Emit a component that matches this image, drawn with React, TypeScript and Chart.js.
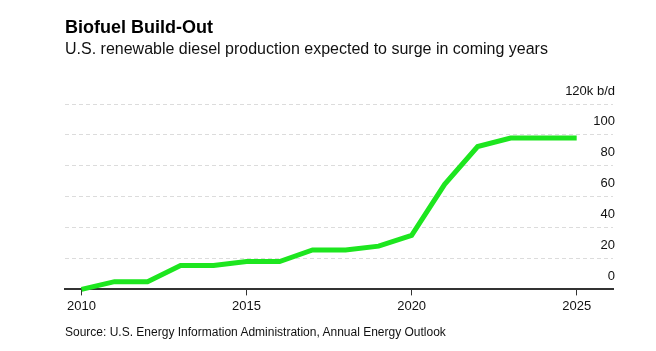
import React, { useEffect, useRef } from 'react';
import { Chart, registerables } from 'chart.js';

Chart.register(...registerables);

const TITLE = 'Biofuel Build-Out';
const SUBTITLE = 'U.S. renewable diesel production expected to surge in coming years';
const SOURCE = 'Source: U.S. Energy Information Administration, Annual Energy Outlook';

const years = [2010, 2011, 2012, 2013, 2014, 2015, 2016, 2017, 2018, 2019, 2020, 2021, 2022, 2023, 2024, 2025];
const production = [0, 5, 5, 15.5, 15.5, 18, 18, 25.5, 25.5, 28, 35, 68, 92.5, 98, 98, 98];
const xTicks = [2010, 2015, 2020, 2025];
const yTicks = [0, 20, 40, 60, 80, 100, 120];
const unitLabel = '120k b/d';

const FONT = '"Liberation Sans", Arial, Helvetica, sans-serif';

export default function App() {
  const ref = useRef<HTMLCanvasElement | null>(null);

  useEffect(() => {
    if (!ref.current) return;
    const chart = new Chart(ref.current, {
      type: 'line',
      data: {
        datasets: [
          {
            data: years.map((y, i) => ({ x: y, y: production[i] })),
            borderColor: '#1de61f',
            borderWidth: 5,
            pointRadius: 0,
            tension: 0,
            fill: false,
            clip: false as any,
            borderJoinStyle: 'miter',
            borderCapStyle: 'butt',
          },
        ],
      },
      options: {
        responsive: false,
        animation: false,
        layout: { padding: { left: 65, right: 39, top: 104, bottom: 34 } },
        plugins: { legend: { display: false }, tooltip: { enabled: false } },
        scales: {
          x: {
            type: 'linear',
            min: 2009.5,
            max: 2026.1,
            afterBuildTicks: (scale: any) => {
              scale.ticks = xTicks.map((v) => ({ value: v }));
            },
            ticks: {
              autoSkip: false,
              maxRotation: 0,
              padding: 3,
              color: '#111',
              font: { family: FONT, size: 13 },
              callback: (v: any) => String(v),
            },
            grid: { drawOnChartArea: false, drawTicks: true, tickLength: 6, color: '#333', lineWidth: 1 },
            border: { display: true, color: '#333', width: 2 },
          },
          y: {
            type: 'linear',
            position: 'right',
            min: 0,
            max: 120,
            afterBuildTicks: (scale: any) => {
              scale.ticks = yTicks.map((v) => ({ value: v }));
            },
            ticks: {
              mirror: true,
              padding: 2,
              labelOffset: -13,
              autoSkip: false,
              color: '#111',
              font: { family: FONT, size: 13 },
              callback: (v: any) => (v === 120 ? unitLabel : String(v)),
            },
            grid: { color: '#dcdcdc', drawTicks: false, lineWidth: 1 },
            border: { display: false, dash: [4, 3] },
          },
        },
      },
    });
    return () => chart.destroy();
  }, []);

  const textBase: React.CSSProperties = {
    position: 'absolute',
    left: 65,
    fontFamily: FONT,
    color: '#000',
    whiteSpace: 'nowrap',
    margin: 0,
  };

  return (
    <div style={{ position: 'absolute', left: 0, top: 0, width: 656, height: 351, background: '#fff', overflow: 'hidden' }}>
      <canvas ref={ref} width={656} height={351} style={{ position: 'absolute', left: 0, top: 0, display: 'block' }} />
      <div style={{ ...textBase, top: 17.5, fontSize: 18, lineHeight: '18px', fontWeight: 700 }}>{TITLE}</div>
      <div style={{ ...textBase, top: 40.5, fontSize: 16, lineHeight: '16px', color: '#111' }}>{SUBTITLE}</div>
      <div style={{ ...textBase, top: 325.8, fontSize: 12, lineHeight: '12px', color: '#111' }}>{SOURCE}</div>
    </div>
  );
}
